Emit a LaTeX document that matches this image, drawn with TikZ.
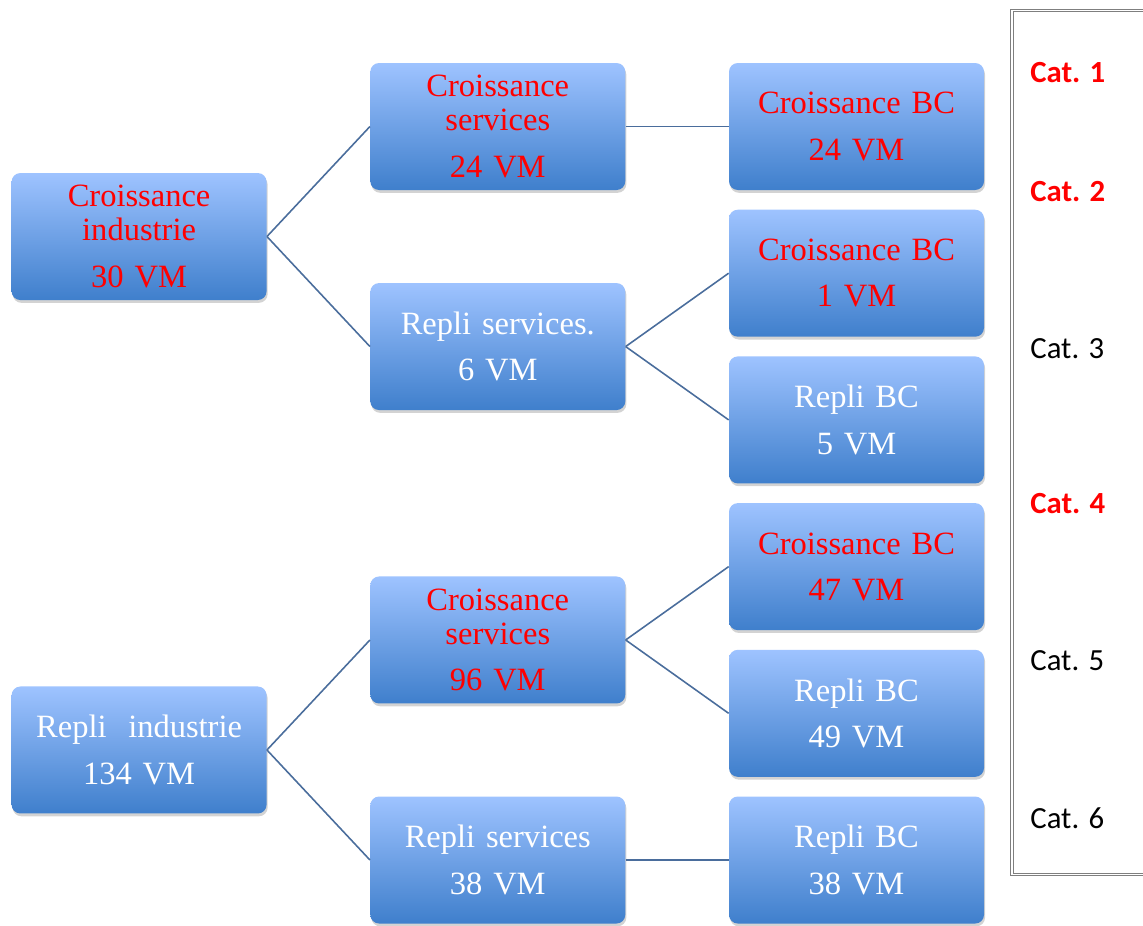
\documentclass[tikz,border=0pt]{standalone}
\usepackage{fontspec}
\setmainfont{Liberation Serif}
\newfontfamily\catfont{Carlito}
\usetikzlibrary{positioning, calc, shadows}
\definecolor{boxtop}{HTML}{9EC3FF}
\definecolor{boxbot}{HTML}{3F7FCC}
\definecolor{linkblue}{HTML}{4A6D9C}
\definecolor{framegray}{HTML}{7F7F7F}

\begin{document}
\begin{tikzpicture}[
   font=\fontsize{18.5}{19.3}\selectfont,
   node distance=3.8mm and 20.6mm,
   box/.style={rectangle, rounded corners=5pt, top color=boxtop, bottom color=boxbot,
               text width=50mm, align=center, minimum width=51mm,
               minimum height=25.4mm, inner sep=0pt,
               drop shadow={shadow xshift=0.6pt, shadow yshift=-1.6pt, opacity=0.35}},
   upbox/.style={box, text=red},
   downbox/.style={box, text=white},
   link/.style={linkblue, line width=0.9pt},
   catlabel/.style={anchor=west, inner sep=0pt, font=\catfont\fontsize{17.5}{20}\selectfont},
   catred/.style={catlabel, text=red, font=\catfont\bfseries\fontsize{17.5}{20}\selectfont}]
 \useasboundingbox (0,0) rectangle (22.86,-18.5);
 % last column
 \node[upbox] (bc1) at (17.13,-2.53) {Croissance BC\\[7pt]24 VM};
 \node[upbox, below=of bc1]   (bc2) {Croissance BC\\[7pt]1 VM};
 \node[downbox, below=of bc2] (bc3) {Repli BC\\[7pt]5 VM};
 \node[upbox, below=of bc3]   (bc4) {Croissance BC\\[7pt]47 VM};
 \node[downbox, below=of bc4] (bc5) {Repli BC\\[7pt]49 VM};
 \node[downbox, below=of bc5] (bc6) {Repli BC\\[7pt]38 VM};
 % services
 \coordinate (m23) at ($(bc2.west)!0.5!(bc3.west)$);
 \coordinate (m45) at ($(bc4.west)!0.5!(bc5.west)$);
 \node[upbox, left=of bc1]    (sv1) {Croissance\\services\\[7pt]24 VM};
 \node[downbox, left=of m23]  (sv2) {Repli services.\\[7pt]6 VM};
 \node[upbox, left=of m45]    (sv3) {Croissance\\services\\[7pt]96 VM};
 \node[downbox, left=of bc6]  (sv4) {Repli services\\[7pt]38 VM};
 % industrie
 \coordinate (m12) at ($(sv1.west)!0.5!(sv2.west)$);
 \coordinate (m34) at ($(sv3.west)!0.5!(sv4.west)$);
 \node[upbox, left=of m12]    (in1) {Croissance\\industrie\\[7pt]30 VM};
 \node[downbox, left=of m34]  (in2) {Repli\ \ industrie\\[7pt]134 VM};
 \draw[link] (in1.east) -- (sv1.west);
 \draw[link] (in1.east) -- (sv2.west);
 \draw[link] (in2.east) -- (sv3.west);
 \draw[link] (in2.east) -- (sv4.west);
 \draw[link] (sv1.east) -- (bc1.west);
 \draw[link] (sv2.east) -- (bc2.west);
 \draw[link] (sv2.east) -- (bc3.west);
 \draw[link] (sv3.east) -- (bc4.west);
 \draw[link] (sv3.east) -- (bc5.west);
 \draw[link] (sv4.east) -- (bc6.west);
 % categories
 \draw[framegray, line width=0.5pt, double, double distance=0.9pt]
   (20.24,-0.21) rectangle (23.5,-17.49);
 \node[catred]   (cat1) at (20.6,-1.46)  {Cat. 1};
 \node[catred]   (cat2) at (20.6,-3.84)  {Cat. 2};
 \node[catlabel] (cat3) at (20.6,-6.98)  {Cat. 3};
 \node[catred]   (cat4) at (20.6,-10.08) {Cat. 4};
 \node[catlabel] (cat5) at (20.6,-13.22) {Cat. 5};
 \node[catlabel] (cat6) at (20.6,-16.36) {Cat. 6};
\end{tikzpicture}
\end{document}
